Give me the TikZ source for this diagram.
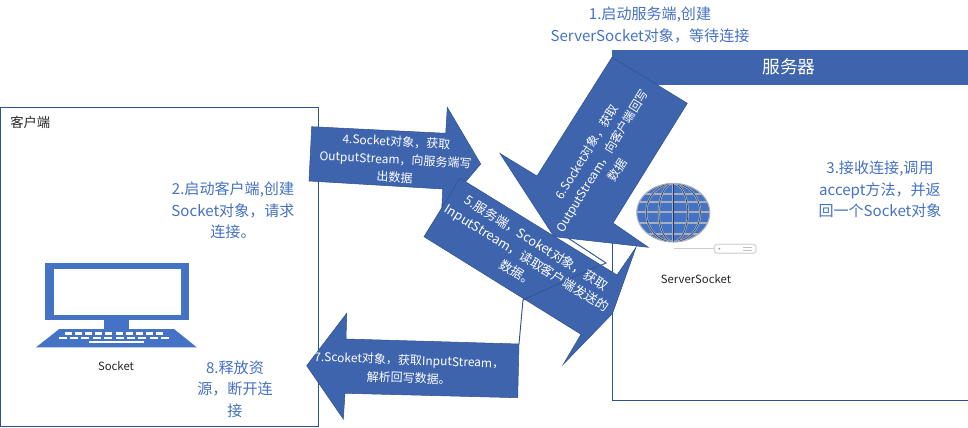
\documentclass[tikz,border=0pt]{standalone}
\usepackage{fontspec}
\setmainfont{Noto Sans CJK SC}
\definecolor{arrowfill}{HTML}{3E64AD}
\definecolor{edgeblue}{HTML}{2F528F}
\definecolor{textblue}{HTML}{4472C4}
\definecolor{globeline}{HTML}{A9AFBB}
\tikzset{
  box/.style={draw=edgeblue,line width=0.75pt,fill=white},
  bigarrow/.style={fill=arrowfill,draw=edgeblue,line width=0.4pt,line join=miter},
  inarrow/.style={text=white,align=center,inner sep=0pt,font=\fontsize{9}{13.4}\selectfont},
  bluetext/.style={text=textblue,align=center,inner sep=0pt,font=\fontsize{11.3}{16}\selectfont},
  plainlabel/.style={text=black!85,inner sep=0pt,font=\fontsize{8.5}{10}\selectfont},
}
\begin{document}
\begin{tikzpicture}[x=0.75pt,y=-0.75pt]
\useasboundingbox (0,0) rectangle (968,428);
% boxes
\draw[box] (0,107.5) rectangle (318.3,426.7);
\draw[box] (612.3,85) rectangle (968,400.7);
\fill[arrowfill] (612,50) rectangle (968,85);
\node[text=white,inner sep=0pt,font=\fontsize{13.3}{15}\selectfont] (srv) at (789,67) {服务器};
\node[anchor=west,text=black!85,inner sep=0pt,font=\fontsize{10}{14}\selectfont] (cli) at (10,122) {客户端};
% hidden outline
\draw[edgeblue,line width=0.7pt,fill=white] (568,238) -- (606,263) -- (523,300) -- (519,344);
% arrow 4
\draw[bigarrow] (311.7,126.7) -- (445.7,133.3) -- (447.3,107.3) -- (480.7,164) -- (441.7,210) -- (442.7,189) -- (309,181) -- cycle;
% arrow 7
\draw[bigarrow] (519,344) -- (517.7,397.7) -- (345,393.3) -- (343.3,419) -- (306.7,365.7) -- (346.7,313.3) -- (346,339) -- cycle;
% arrow 5
\draw[bigarrow] (460,178.3) -- (617,275) -- (636,247.3) -- (612.5,313.5) -- (563.3,364.3) -- (581,334.3) -- (424,236.7) -- cycle;
\draw[edgeblue,line width=0.5pt] (523,300) -- (598,266);
% arrow 6
\draw[bigarrow] (612,57.3) -- (687.3,103.3) -- (613,223) -- (648.3,247.3) -- (554,236.7) -- (500,153.5) -- (537,176) -- cycle;
% server line over the gap
\draw[edgeblue,line width=0.75pt] (612.3,243.5) -- (612.3,272);
% arrow labels
\node[inarrow,rotate=-3] (a4) at (395.5,159.5) {4.Socket对象，获取\\OutputStream，向服务端写\\出数据};
\node[inarrow,rotate=-32,font=\fontsize{9.6}{13.4}\selectfont] (a5) at (527,258) {5.服务端，Scoket对象，获取\\InputStream，读取客户端发送的\\数据。};
\node[inarrow,rotate=58.5] (a6) at (602,161) {6.Socket对象，获取\\OutputStream，向客户端回写\\数据};
\node[inarrow,rotate=-2] (a7) at (409,369) {7.Scoket对象，获取InputStream，\\解析回写数据。};
% blue notes
\node[bluetext] (n1) at (650,25) {1.启动服务端,创建\\ServerSocket对象，等待连接};
\node[bluetext] (n2) at (233,210.5) {2.启动客户端,创建\\Socket对象，请求\\连接。};
\node[bluetext] (n3) at (880,189.5) {3.接收连接,调用\\accept方法，并返\\回一个Socket对象};
\node[bluetext] (n8) at (235,389) {8.释放资\\源，断开连\\接};
% globe
\begin{scope}
  \clip (673.3,212.7) ellipse [x radius=36.5,y radius=29.3];
  \fill[textblue] (673.3,212.7) ellipse [x radius=36.5,y radius=29.3];
  \foreach \yy in {-19,-11,-1,10,21}
    \draw[globeline,line width=1.5pt] (630,212.7+\yy) -- (715,212.7+\yy);
  \foreach \rr in {14.5,27}{
    \draw[globeline,line width=1.6pt] (673.3,212.7) ellipse [x radius=\rr,y radius=29.3];
    \draw[edgeblue!70!black,line width=0.45pt] (673.3,212.7) ellipse [x radius=\rr,y radius=29.3];
  }
  \draw[globeline,line width=1.6pt] (673.3,180) -- (673.3,245);
  \draw[edgeblue!70!black,line width=0.6pt] (673.3,180) -- (673.3,245);
\end{scope}
\draw[globeline,line width=0.8pt] (673.3,212.7) ellipse [x radius=36.5,y radius=29.3];
% server device
\draw[black!20,line width=0.8pt] (674,248.7) -- (714.3,248.7);
\draw[black!15,line width=1pt,rounded corners=2pt,fill=white] (714.3,244.3) rectangle (756,253.3);
\fill[textblue!70] (719.3,248.7) circle (1);
\draw[black!25,line width=0.6pt] (743,247.3) -- (752,247.3) (743,249.9) -- (752,249.9);
\node[plainlabel] (ss) at (696,279) {ServerSocket};
% laptop
\fill[textblue] (45,263.3) rectangle (189.3,320);
\fill[white] (54,269) rectangle (181,315);
\fill[textblue] (104,320) rectangle (129.3,329);
\fill[textblue] (59.3,329) -- (174,329) -- (196.7,347.3) -- (36,347.3) -- cycle;
\foreach \k in {0,...,9}{
  \fill[white] ({65+\k*10.1},332.2) rectangle +(7,2.4);
  \fill[white] ({58.5+\k*11.4},336.6) rectangle +(8,2.4);
}
\fill[white] (89.3,340.8) rectangle (144,342.8);
\node[plainlabel] (sk) at (116,366) {Socket};
\end{tikzpicture}
\end{document}
